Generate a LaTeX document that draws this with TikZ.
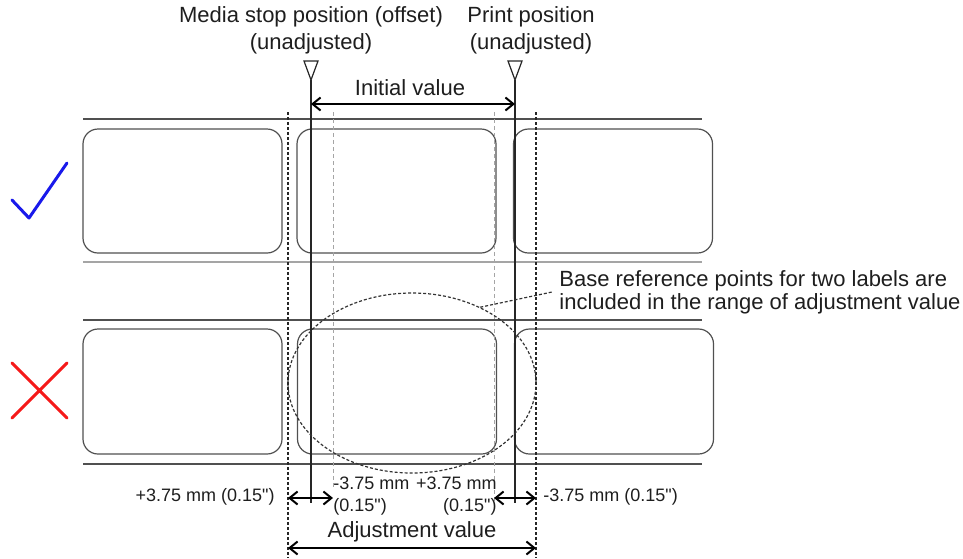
\documentclass[tikz,border=0pt]{standalone}
\usepackage{fontspec}
\setmainfont{Liberation Sans}
\usepackage{xcolor}
\usetikzlibrary{arrows.meta,shapes.geometric,positioning}
\definecolor{checkblue}{RGB}{25, 25, 235}
\definecolor{crossred}{RGB}{245, 25, 25}
\definecolor{edgegray}{RGB}{80, 80, 80}
\definecolor{guidegray}{RGB}{165, 165, 165}
\definecolor{textgray}{RGB}{30, 30, 30}

\tikzset{
    labelbox/.style={draw=edgegray, line width=0.6pt, rounded corners=7.5pt, minimum width=99.5pt, minimum height=62pt, inner sep=0pt},
    stripedge/.style={draw=edgegray, line width=0.6pt},
    guide/.style={draw=black!85, line width=0.6pt},
    guidedash/.style={draw=black!85, line width=0.6pt, dash pattern=on 1.5pt off 1pt},
    guidelight/.style={draw=guidegray, line width=0.5pt, dash pattern=on 2pt off 1.5pt},
    dimarrow/.style={{Straight Barb[length=4pt,width=6.5pt]}-{Straight Barb[length=4pt,width=6.5pt]}, line width=1pt},
    smalltext/.style={font=\fontsize{9}{11}\selectfont, inner sep=0pt}
}

\begin{document}
\begin{tikzpicture}[x=0.5pt, y=-0.5pt, every node/.style={font=\fontsize{11}{13.5}\selectfont, text=textgray}]
    \useasboundingbox (0,0) rectangle (963,558);

    % Strip edges
    \draw[stripedge] (83,119) -- (702,119);
    \draw[draw=guidegray, line width=1.2pt] (83,262) -- (702,262);
    \draw[stripedge] (83,320) -- (702,320);
    \draw[stripedge] (83,464) -- (702,464);

    % Labels: upper strip (good) and lower strip (bad)
    \node[labelbox] (up_left) at (182.5,191) {};
    \node[labelbox] (up_mid) at (396.5,191) {};
    \node[labelbox] (up_right) at (613,191) {};
    \node[labelbox, minimum height=62.5pt] (low_left) at (182.5,391.5) {};
    \node[labelbox, minimum height=62.5pt] (low_mid) at (397,391.5) {};
    \node[labelbox, minimum height=62.5pt] (low_right) at (614,391.5) {};

    % Marks
    \draw[checkblue, line width=1.5pt, line cap=round, line join=round] (12,200) -- (29,218) -- (67,163);
    \draw[crossred, line width=1.5pt, line cap=round] (12,363) -- (67,418) (12,418) -- (67,363);

    % Position markers
    \coordinate (stop) at (311,80);
    \coordinate (print) at (515,80);
    \coordinate (stop_end) at (311,503);
    \coordinate (print_end) at (515,503);
    \draw[guide, fill=white] (stop) -- ++(-7,-19) -- ++(14,0) -- cycle;
    \draw[guide, fill=white] (print) -- ++(-7,-19) -- ++(14,0) -- cycle;
    \draw[guide] (stop) -- (stop_end);
    \draw[guide] (print) -- (print_end);

    % Adjustment limits
    \coordinate (plus_top) at (288,112);
    \coordinate (plus_end) at (288,558);
    \coordinate (minus_top) at (536,112);
    \coordinate (minus_end) at (536,558);
    \coordinate (in_l_top) at (333,112);
    \coordinate (in_l_end) at (333,490);
    \coordinate (in_r_top) at (494,112);
    \coordinate (in_r_end) at (494,510);
    \draw[guidedash] (plus_top) -- (plus_end);
    \draw[guidedash] (minus_top) -- (minus_end);
    \draw[guidelight] (in_l_top) -- (in_l_end);
    \draw[guidelight] (in_r_top) -- (in_r_end);

    % Texts
    \node[align=center] (stop_lbl) at (311,30.5) {Media stop position (offset)\\(unadjusted)};
    \node[align=center] (print_lbl) at (531,30.5) {Print position\\(unadjusted)};
    \node (init_lbl) at (410,88) {Initial value};
    \node (adj_lbl) at (412,532) {Adjustment value};
    \node[smalltext, anchor=east] (plus_lbl) at (275,497) {+3.75 mm (0.15\textquotedbl)};
    \node[smalltext, anchor=west, align=left] (in_l_lbl) at (333,496) {-3.75 mm\\(0.15\textquotedbl)};
    \node[smalltext, anchor=east, align=right] (in_r_lbl) at (497,496) {+3.75 mm\\(0.15\textquotedbl)};
    \node[smalltext, anchor=west] (minus_lbl) at (543,497) {-3.75 mm (0.15\textquotedbl)};
    \node[anchor=west, align=left, font=\fontsize{11}{11.5}\selectfont, inner sep=3.5pt] (note) at (552,292) {Base reference points for two labels are\\included in the range of adjustment value};

    % Range of adjustment
    \node[draw=black!80, line width=0.6pt, dash pattern=on 1.5pt off 1pt, ellipse, minimum width=124pt, minimum height=90pt, inner sep=0pt] (range) at (412,383) {};
    \draw[draw=black!80, line width=0.6pt, dash pattern=on 1.5pt off 1pt] (range.48) -- (note.west);

    % Dimension arrows
    \coordinate (init_l) at (311,104);
    \coordinate (init_r) at (515,104);
    \coordinate (adj_l) at (288,548);
    \coordinate (adj_r) at (536,548);
    \coordinate (plus_l) at (288,498);
    \coordinate (plus_r) at (333,498);
    \coordinate (minus_l) at (494,498);
    \coordinate (minus_r) at (536,498);
    \draw[dimarrow] (init_l) -- (init_r);
    \draw[dimarrow] (adj_l) -- (adj_r);
    \draw[dimarrow] (plus_l) -- (plus_r);
    \draw[dimarrow] (minus_l) -- (minus_r);
\end{tikzpicture}
\end{document}
